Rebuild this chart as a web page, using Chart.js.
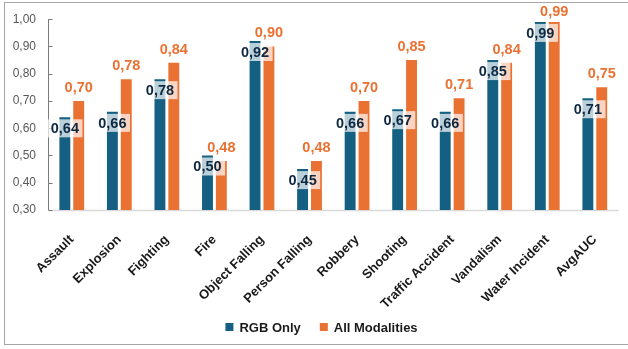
<!DOCTYPE html>
<html>
<head>
<meta charset="utf-8">
<script src="https://cdn.jsdelivr.net/npm/chart.js@4.4.1/dist/chart.umd.min.js"></script>
<style>
  html, body { margin: 0; padding: 0; background: #ffffff; }
  body { width: 628px; height: 349px; overflow: hidden; position: relative; }
  #frame {
    position: absolute; left: 4px; top: 2px; width: 700px; height: 341px;
    border-left: 1.5px solid #a6a6a6; border-top: 1.5px solid #a6a6a6; border-bottom: 1.5px solid #a6a6a6;
    pointer-events: none;
  }
  canvas { position: absolute; left: 0; top: 0; }
</style>
</head>
<body>
<canvas id="chart" width="628" height="349"></canvas>
<div id="frame"></div>
<script>
// Per-class AUC scores
const categories = ['Assault', 'Explosion', 'Fighting', 'Fire', 'Object Falling', 'Person Falling',
  'Robbery', 'Shooting', 'Traffic Accident', 'Vandalism', 'Water Incident', 'AvgAUC'];
const rgbOnly = [0.64, 0.66, 0.78, 0.50, 0.92, 0.45, 0.66, 0.67, 0.66, 0.85, 0.99, 0.71];
const allModalities = [0.70, 0.78, 0.84, 0.48, 0.90, 0.48, 0.70, 0.85, 0.71, 0.84, 0.99, 0.75];
const seriesNames = ['RGB Only', 'All Modalities'];
const yTicks = [0.30, 0.40, 0.50, 0.60, 0.70, 0.80, 0.90, 1.00];

const BLUE = '#156082';
const ORANGE = '#E97132';
const NAVY = '#0E2841';
const FONT = "'Liberation Sans', Arial, sans-serif";

const fmt = v => v.toFixed(2).replace('.', ',');

// Axis line, baseline, value labels and legend
const decorations = {
  id: 'decorations',
  beforeDatasetsDraw(chart) {
    const { ctx, chartArea, scales } = chart;
    const y = scales.y;
    ctx.save();
    // light baseline
    ctx.strokeStyle = '#d9d9d9';
    ctx.lineWidth = 1.5;
    ctx.beginPath();
    ctx.moveTo(chartArea.left, chartArea.bottom + 0.5);
    ctx.lineTo(chartArea.right, chartArea.bottom + 0.5);
    ctx.stroke();
    // value axis with inward tick marks
    ctx.strokeStyle = '#7a7a7a';
    ctx.lineWidth = 1;
    ctx.beginPath();
    const ax = Math.round(chartArea.left) + 0.5;
    ctx.moveTo(ax, y.getPixelForValue(yTicks[yTicks.length - 1]));
    ctx.lineTo(ax, y.getPixelForValue(yTicks[0]));
    yTicks.forEach(t => {
      const py = Math.round(y.getPixelForValue(t)) + 0.5;
      ctx.moveTo(ax, py);
      ctx.lineTo(ax + 4, py);
    });
    ctx.stroke();
    ctx.restore();
  },
  afterDatasetsDraw(chart) {
    const { ctx } = chart;
    const blueMeta = chart.getDatasetMeta(0);
    const orangeMeta = chart.getDatasetMeta(1);
    ctx.save();
    ctx.font = `bold 14.5px ${FONT}`;
    ctx.textAlign = 'center';
    ctx.textBaseline = 'middle';
    // inside-end labels for the first series, on a translucent box
    blueMeta.data.forEach((bar, i) => {
      const txt = fmt(rgbOnly[i]);
      const w = ctx.measureText(txt).width + 7;
      const h = 18;
      const top = bar.y + 2;
      ctx.fillStyle = 'rgba(255,255,255,0.7)';
      ctx.fillRect(bar.x - w / 2, top, w, h);
      ctx.fillStyle = NAVY;
      ctx.fillText(txt, bar.x, top + h / 2 + 1);
    });
    // outside-end labels for the second series
    orangeMeta.data.forEach((bar, i) => {
      const txt = fmt(allModalities[i]);
      const cy = Math.max(bar.y - 13, 12);
      ctx.fillStyle = ORANGE;
      ctx.fillText(txt, bar.x, cy);
    });
    // legend
    ctx.font = `bold 13px ${FONT}`;
    ctx.textAlign = 'left';
    const box = 8, gap = 6, itemGap = 19;
    const widths = seriesNames.map(n => ctx.measureText(n).width);
    const total = widths.reduce((a, b) => a + b, 0) + 2 * (box + gap) + itemGap;
    let x = 321.5 - total / 2;
    const ly = 327;
    [BLUE, ORANGE].forEach((c, i) => {
      ctx.fillStyle = c;
      ctx.fillRect(x, ly - box / 2, box, box);
      x += box + gap;
      ctx.fillStyle = '#1a1a1a';
      ctx.fillText(seriesNames[i], x, ly + 1);
      x += widths[i] + itemGap;
    });
    ctx.restore();
  }
};

new Chart(document.getElementById('chart'), {
  type: 'bar',
  data: {
    labels: categories,
    datasets: [
      { label: seriesNames[0], data: rgbOnly, backgroundColor: BLUE },
      { label: seriesNames[1], data: allModalities, backgroundColor: ORANGE }
    ]
  },
  options: {
    responsive: false,
    animation: false,
    devicePixelRatio: 1,
    categoryPercentage: 28 / 48,
    barPercentage: 11 / 14,
    layout: { padding: { left: 0, right: 4, top: 15, bottom: 29 } },
    plugins: { legend: { display: false }, tooltip: { enabled: false } },
    scales: {
      x: {
        grid: { display: false, drawTicks: false },
        border: { display: false },
        ticks: {
          font: { family: FONT, size: 13, weight: 'bold' },
          color: '#1a1a1a',
          minRotation: 45,
          maxRotation: 45,
          autoSkip: false,
          padding: 22
        },
        afterFit(s) { s.height = 110; }
      },
      y: {
        min: 0.3,
        max: 1.0,
        grid: { display: false, drawTicks: false },
        border: { display: false },
        ticks: {
          stepSize: 0.1,
          font: { family: FONT, size: 12 },
          color: '#595959',
          padding: 12,
          callback: v => fmt(v)
        },
        afterFit(s) { s.width = 48; }
      }
    }
  },
  plugins: [decorations]
});
</script>
</body>
</html>
